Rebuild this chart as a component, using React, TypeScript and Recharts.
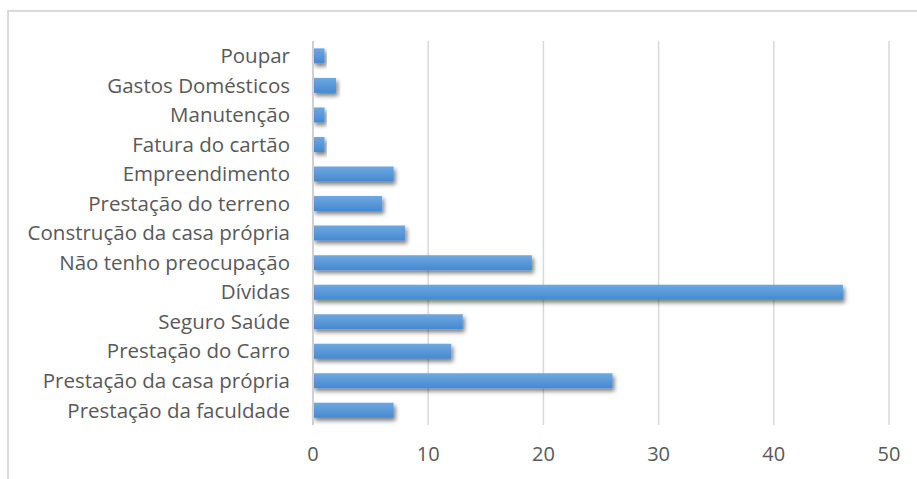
import { BarChart, Bar, XAxis, YAxis, CartesianGrid } from 'recharts';

const categories = [
  'Poupar',
  'Gastos Domésticos',
  'Manutenção',
  'Fatura do cartão',
  'Empreendimento',
  'Prestação do terreno',
  'Construção da casa própria',
  'Não tenho preocupação',
  'Dívidas',
  'Seguro Saúde',
  'Prestação do Carro',
  'Prestação da casa própria',
  'Prestação da faculdade',
];
const counts = [1, 2, 1, 1, 7, 6, 8, 19, 46, 13, 12, 26, 7];
const xTicks = [0, 10, 20, 30, 40, 50];

const data = categories.map((name, i) => ({ name, value: counts[i] }));

const font = '"Open Sans", sans-serif';
const textColor = '#595959';

export default function App() {
  return (
    <div style={{ position: 'absolute', left: 0, top: 0, width: 917, height: 479, background: '#fff', overflow: 'hidden' }}>
      <div
        style={{
          position: 'absolute',
          left: 7,
          top: 10,
          width: 940,
          height: 500,
          border: '2px solid #d9d9d9',
        }}
      />
      <BarChart
        width={917}
        height={479}
        data={data}
        layout="vertical"
        barCategoryGap="25%"
        margin={{ top: 41, right: 28, bottom: 24, left: 0 }}
        style={{ position: 'absolute', left: 0, top: 0, fontFamily: font }}
      >
        <defs>
          <linearGradient id="barFill" x1="0" y1="0" x2="0" y2="1">
            <stop offset="0%" stopColor="#6ea8df" />
            <stop offset="100%" stopColor="#4689d0" />
          </linearGradient>
          <filter id="barShadow" x="-10%" y="-50%" width="130%" height="250%">
            <feDropShadow dx="2" dy="3" stdDeviation="2" floodColor="#000" floodOpacity="0.5" />
          </filter>
        </defs>
        <CartesianGrid horizontal={false} stroke="#d9d9d9" strokeWidth={1.5} />
        <XAxis
          type="number"
          domain={[0, 50]}
          ticks={xTicks}
          height={30}
          axisLine={false}
          tickLine={false}
          tickMargin={16}
          tick={{ fill: textColor, fontSize: 20, fontFamily: font }}
        />
        <YAxis
          type="category"
          dataKey="name"
          width={313}
          axisLine={{ stroke: '#d0d0d0', strokeWidth: 2 }}
          tickLine={false}
          tickMargin={17}
          interval={0}
          tick={{ fill: textColor, fontSize: 20.5, fontFamily: font }}
        />
        <Bar
          dataKey="value"
          fill="url(#barFill)"
          filter="url(#barShadow)"
          isAnimationActive={false}
        />
      </BarChart>
    </div>
  );
}
